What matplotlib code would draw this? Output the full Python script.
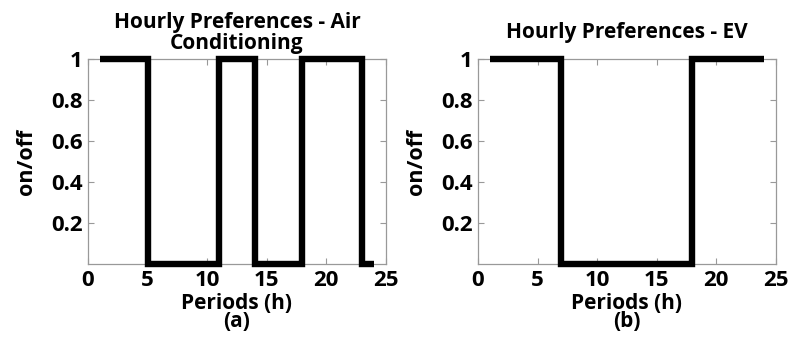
import matplotlib.pyplot as plt

plt.rcParams['font.family'] = ['Open Sans', 'DejaVu Sans']
plt.rcParams['font.weight'] = 'bold'

hours = list(range(1, 25))
ac_pref = [1, 1, 1, 1, 0, 0, 0, 0, 0, 0, 1, 1, 1, 0, 0, 0, 0, 1, 1, 1, 1, 1, 0, 0]
ev_pref = [1, 1, 1, 1, 1, 1, 0, 0, 0, 0, 0, 0, 0, 0, 0, 0, 0, 1, 1, 1, 1, 1, 1, 1]

titles = ['Hourly Preferences - Air\nConditioning', 'Hourly Preferences - EV']
title_pads = [7, 15]
xlabels = ['Periods (h)\n(a)', 'Periods (h)\n(b)']
xticks = [0, 5, 10, 15, 20, 25]
yticks = [0.2, 0.4, 0.6, 0.8, 1]
ytick_labels = ['0.2', '0.4', '0.6', '0.8', '1']

fig = plt.figure(figsize=(7.9, 3.4), dpi=100)
ax1 = fig.add_axes([0.1114, 0.2235, 0.377, 0.603])
ax2 = fig.add_axes([0.605, 0.2235, 0.377, 0.603])

for ax, vals, title, pad, xl in zip([ax1, ax2], [ac_pref, ev_pref], titles, title_pads, xlabels):
    ax.step(hours, vals, where='post', color='black', linewidth=4.6,
            solid_joinstyle='miter', solid_capstyle='butt', clip_on=False, zorder=3)
    ax.set_xlim(0, 25)
    ax.set_ylim(0, 1)
    ax.set_xticks(xticks)
    ax.set_yticks(yticks)
    ax.set_yticklabels(ytick_labels)
    ax.tick_params(direction='in', length=4, color='#999999', labelsize=16,
                   top=True, right=True, pad=4)
    for lab in ax.get_xticklabels() + ax.get_yticklabels():
        lab.set_fontweight('bold')
    for sp in ax.spines.values():
        sp.set_color('#999999')
        sp.set_linewidth(0.9)
    ax.set_title(title, fontsize=15, fontweight='bold', linespacing=1.0, pad=pad)
    ax.set_xlabel(xl, fontsize=15, fontweight='bold', linespacing=0.82, labelpad=2)
    ax.set_ylabel('on/off', fontsize=15.5, fontweight='bold', labelpad=10)

fig.savefig('out.png', dpi=100)
